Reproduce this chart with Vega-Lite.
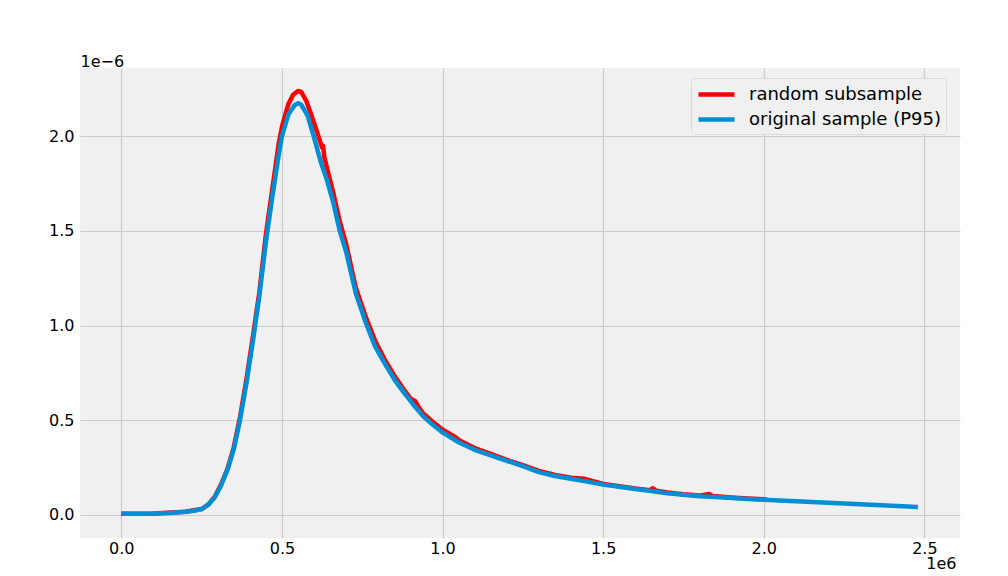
{
  "$schema": "https://vega.github.io/schema/vega-lite/v6.json",
  "width": 880,
  "height": 470,
  "autosize": {"type": "none"},
  "padding": {"left": 80, "top": 68, "right": 48, "bottom": 38},
  "background": "#ffffff",
  "config": {
    "view": {"stroke": null, "fill": "#f0f0f0"},
    "font": "DejaVu Sans",
    "axis": {"labelFont": "DejaVu Sans", "labelFontSize": 16, "labelColor": "#000000", "titleFont": "DejaVu Sans", "titleFontSize": 16, "titleFontWeight": "normal", "titleColor": "#000000", "domain": false, "ticks": false, "grid": true, "gridColor": "#cbcbcb", "gridWidth": 1.2},
    "legend": {"labelFont": "DejaVu Sans", "labelFontSize": 18, "labelColor": "#000000", "labelLimit": 400}
  },
  "datasets": {
    "curves": [
      {"x": 0, "y": 0.005e-6, "series": "random subsample"},
      {"x": 100000, "y": 0.006e-6, "series": "random subsample"},
      {"x": 200000, "y": 0.016e-6, "series": "random subsample"},
      {"x": 250000, "y": 0.03e-6, "series": "random subsample"},
      {"x": 270000, "y": 0.053e-6, "series": "random subsample"},
      {"x": 290000, "y": 0.092e-6, "series": "random subsample"},
      {"x": 310000, "y": 0.158e-6, "series": "random subsample"},
      {"x": 330000, "y": 0.24e-6, "series": "random subsample"},
      {"x": 350000, "y": 0.355e-6, "series": "random subsample"},
      {"x": 370000, "y": 0.52e-6, "series": "random subsample"},
      {"x": 390000, "y": 0.72e-6, "series": "random subsample"},
      {"x": 410000, "y": 0.945e-6, "series": "random subsample"},
      {"x": 430000, "y": 1.18e-6, "series": "random subsample"},
      {"x": 450000, "y": 1.48e-6, "series": "random subsample"},
      {"x": 470000, "y": 1.72e-6, "series": "random subsample"},
      {"x": 490000, "y": 1.96e-6, "series": "random subsample"},
      {"x": 500000, "y": 2.05e-6, "series": "random subsample"},
      {"x": 520000, "y": 2.17e-6, "series": "random subsample"},
      {"x": 535000, "y": 2.22e-6, "series": "random subsample"},
      {"x": 550000, "y": 2.24e-6, "series": "random subsample"},
      {"x": 560000, "y": 2.235e-6, "series": "random subsample"},
      {"x": 575000, "y": 2.19e-6, "series": "random subsample"},
      {"x": 590000, "y": 2.12e-6, "series": "random subsample"},
      {"x": 610000, "y": 2.02e-6, "series": "random subsample"},
      {"x": 625000, "y": 1.94e-6, "series": "random subsample"},
      {"x": 628000, "y": 1.95e-6, "series": "random subsample"},
      {"x": 632000, "y": 1.89e-6, "series": "random subsample"},
      {"x": 645000, "y": 1.8e-6, "series": "random subsample"},
      {"x": 660000, "y": 1.70e-6, "series": "random subsample"},
      {"x": 680000, "y": 1.55e-6, "series": "random subsample"},
      {"x": 700000, "y": 1.43e-6, "series": "random subsample"},
      {"x": 730000, "y": 1.20e-6, "series": "random subsample"},
      {"x": 760000, "y": 1.05e-6, "series": "random subsample"},
      {"x": 790000, "y": 0.92e-6, "series": "random subsample"},
      {"x": 820000, "y": 0.82e-6, "series": "random subsample"},
      {"x": 850000, "y": 0.735e-6, "series": "random subsample"},
      {"x": 880000, "y": 0.66e-6, "series": "random subsample"},
      {"x": 900000, "y": 0.615e-6, "series": "random subsample"},
      {"x": 915000, "y": 0.6e-6, "series": "random subsample"},
      {"x": 925000, "y": 0.57e-6, "series": "random subsample"},
      {"x": 940000, "y": 0.535e-6, "series": "random subsample"},
      {"x": 970000, "y": 0.49e-6, "series": "random subsample"},
      {"x": 1000000, "y": 0.45e-6, "series": "random subsample"},
      {"x": 1030000, "y": 0.42e-6, "series": "random subsample"},
      {"x": 1040000, "y": 0.41e-6, "series": "random subsample"},
      {"x": 1050000, "y": 0.395e-6, "series": "random subsample"},
      {"x": 1100000, "y": 0.352e-6, "series": "random subsample"},
      {"x": 1150000, "y": 0.322e-6, "series": "random subsample"},
      {"x": 1200000, "y": 0.29e-6, "series": "random subsample"},
      {"x": 1250000, "y": 0.262e-6, "series": "random subsample"},
      {"x": 1300000, "y": 0.232e-6, "series": "random subsample"},
      {"x": 1350000, "y": 0.21e-6, "series": "random subsample"},
      {"x": 1400000, "y": 0.195e-6, "series": "random subsample"},
      {"x": 1440000, "y": 0.19e-6, "series": "random subsample"},
      {"x": 1500000, "y": 0.163e-6, "series": "random subsample"},
      {"x": 1550000, "y": 0.151e-6, "series": "random subsample"},
      {"x": 1600000, "y": 0.139e-6, "series": "random subsample"},
      {"x": 1645000, "y": 0.13e-6, "series": "random subsample"},
      {"x": 1655000, "y": 0.14e-6, "series": "random subsample"},
      {"x": 1665000, "y": 0.127e-6, "series": "random subsample"},
      {"x": 1700000, "y": 0.117e-6, "series": "random subsample"},
      {"x": 1750000, "y": 0.108e-6, "series": "random subsample"},
      {"x": 1800000, "y": 0.101e-6, "series": "random subsample"},
      {"x": 1830000, "y": 0.11e-6, "series": "random subsample"},
      {"x": 1840000, "y": 0.099e-6, "series": "random subsample"},
      {"x": 1900000, "y": 0.091e-6, "series": "random subsample"},
      {"x": 1950000, "y": 0.086e-6, "series": "random subsample"},
      {"x": 2000000, "y": 0.082e-6, "series": "random subsample"},
      {"x": 2010000, "y": 0.078e-6, "series": "random subsample"},
      {"x": 0, "y": 0.005e-6, "series": "original sample (P95)"},
      {"x": 50000, "y": 0.005e-6, "series": "original sample (P95)"},
      {"x": 100000, "y": 0.006e-6, "series": "original sample (P95)"},
      {"x": 150000, "y": 0.009e-6, "series": "original sample (P95)"},
      {"x": 200000, "y": 0.016e-6, "series": "original sample (P95)"},
      {"x": 230000, "y": 0.022e-6, "series": "original sample (P95)"},
      {"x": 250000, "y": 0.03e-6, "series": "original sample (P95)"},
      {"x": 270000, "y": 0.052e-6, "series": "original sample (P95)"},
      {"x": 290000, "y": 0.09e-6, "series": "original sample (P95)"},
      {"x": 310000, "y": 0.152e-6, "series": "original sample (P95)"},
      {"x": 330000, "y": 0.235e-6, "series": "original sample (P95)"},
      {"x": 350000, "y": 0.345e-6, "series": "original sample (P95)"},
      {"x": 370000, "y": 0.505e-6, "series": "original sample (P95)"},
      {"x": 390000, "y": 0.70e-6, "series": "original sample (P95)"},
      {"x": 410000, "y": 0.92e-6, "series": "original sample (P95)"},
      {"x": 430000, "y": 1.16e-6, "series": "original sample (P95)"},
      {"x": 450000, "y": 1.44e-6, "series": "original sample (P95)"},
      {"x": 470000, "y": 1.68e-6, "series": "original sample (P95)"},
      {"x": 490000, "y": 1.90e-6, "series": "original sample (P95)"},
      {"x": 500000, "y": 2.0e-6, "series": "original sample (P95)"},
      {"x": 520000, "y": 2.115e-6, "series": "original sample (P95)"},
      {"x": 540000, "y": 2.165e-6, "series": "original sample (P95)"},
      {"x": 550000, "y": 2.175e-6, "series": "original sample (P95)"},
      {"x": 560000, "y": 2.168e-6, "series": "original sample (P95)"},
      {"x": 580000, "y": 2.11e-6, "series": "original sample (P95)"},
      {"x": 600000, "y": 1.995e-6, "series": "original sample (P95)"},
      {"x": 620000, "y": 1.87e-6, "series": "original sample (P95)"},
      {"x": 640000, "y": 1.77e-6, "series": "original sample (P95)"},
      {"x": 660000, "y": 1.65e-6, "series": "original sample (P95)"},
      {"x": 680000, "y": 1.50e-6, "series": "original sample (P95)"},
      {"x": 700000, "y": 1.39e-6, "series": "original sample (P95)"},
      {"x": 730000, "y": 1.17e-6, "series": "original sample (P95)"},
      {"x": 760000, "y": 1.02e-6, "series": "original sample (P95)"},
      {"x": 790000, "y": 0.89e-6, "series": "original sample (P95)"},
      {"x": 820000, "y": 0.80e-6, "series": "original sample (P95)"},
      {"x": 850000, "y": 0.715e-6, "series": "original sample (P95)"},
      {"x": 880000, "y": 0.645e-6, "series": "original sample (P95)"},
      {"x": 910000, "y": 0.58e-6, "series": "original sample (P95)"},
      {"x": 940000, "y": 0.52e-6, "series": "original sample (P95)"},
      {"x": 970000, "y": 0.475e-6, "series": "original sample (P95)"},
      {"x": 1000000, "y": 0.435e-6, "series": "original sample (P95)"},
      {"x": 1050000, "y": 0.383e-6, "series": "original sample (P95)"},
      {"x": 1100000, "y": 0.343e-6, "series": "original sample (P95)"},
      {"x": 1150000, "y": 0.314e-6, "series": "original sample (P95)"},
      {"x": 1200000, "y": 0.285e-6, "series": "original sample (P95)"},
      {"x": 1250000, "y": 0.257e-6, "series": "original sample (P95)"},
      {"x": 1300000, "y": 0.225e-6, "series": "original sample (P95)"},
      {"x": 1350000, "y": 0.205e-6, "series": "original sample (P95)"},
      {"x": 1400000, "y": 0.19e-6, "series": "original sample (P95)"},
      {"x": 1450000, "y": 0.175e-6, "series": "original sample (P95)"},
      {"x": 1500000, "y": 0.159e-6, "series": "original sample (P95)"},
      {"x": 1550000, "y": 0.148e-6, "series": "original sample (P95)"},
      {"x": 1600000, "y": 0.136e-6, "series": "original sample (P95)"},
      {"x": 1650000, "y": 0.125e-6, "series": "original sample (P95)"},
      {"x": 1700000, "y": 0.114e-6, "series": "original sample (P95)"},
      {"x": 1750000, "y": 0.105e-6, "series": "original sample (P95)"},
      {"x": 1800000, "y": 0.098e-6, "series": "original sample (P95)"},
      {"x": 1850000, "y": 0.094e-6, "series": "original sample (P95)"},
      {"x": 1900000, "y": 0.088e-6, "series": "original sample (P95)"},
      {"x": 1950000, "y": 0.083e-6, "series": "original sample (P95)"},
      {"x": 2000000, "y": 0.079e-6, "series": "original sample (P95)"},
      {"x": 2100000, "y": 0.071e-6, "series": "original sample (P95)"},
      {"x": 2200000, "y": 0.063e-6, "series": "original sample (P95)"},
      {"x": 2300000, "y": 0.055e-6, "series": "original sample (P95)"},
      {"x": 2400000, "y": 0.048e-6, "series": "original sample (P95)"},
      {"x": 2480000, "y": 0.041e-6, "series": "original sample (P95)"}
    ]
  },
  "data": {"name": "curves"},
  "encoding": {
    "x": {
      "field": "x", "type": "quantitative",
      "scale": {"domain": [-128600, 2611000], "nice": false, "zero": false},
      "axis": {"values": [0, 500000, 1000000, 1500000, 2000000, 2500000], "labelExpr": "format(datum.value/1e6, '.1f')", "labelPadding": 2, "title": "1e6", "titleAnchor": null, "titleAlign": "right", "titleBaseline": "alphabetic", "titleX": 876, "titleY": 30}
    },
    "y": {
      "field": "y", "type": "quantitative",
      "scale": {"domain": [-0.123e-6, 2.361e-6], "nice": false, "zero": false},
      "axis": {"values": [0, 0.5e-6, 1e-6, 1.5e-6, 2e-6], "labelExpr": "format(datum.value*1e6, '.1f')", "labelPadding": 6, "title": "1e\u22126", "titleAngle": 0, "titleAnchor": null, "titleAlign": "left", "titleBaseline": "alphabetic", "titleX": 0, "titleY": -2}
    },
    "color": {
      "field": "series", "type": "nominal",
      "scale": {"domain": ["random subsample", "original sample (P95)"], "range": ["#ff0000", "#008fd5"]},
      "legend": {
        "title": null, "orient": "none", "legendX": 611, "legendY": 10,
        "symbolType": "M-1,0H3", "symbolSize": 324, "symbolStrokeWidth": 4.5,
        "labelOffset": 30, "rowPadding": 4, "padding": 5,
        "fillColor": "#f0f0f0", "strokeColor": "#dadada", "cornerRadius": 3
      }
    }
  },
  "layer": [
    {"transform": [{"filter": "datum.series === 'random subsample'"}], "mark": {"type": "line", "strokeWidth": 4.5, "strokeJoin": "round"}},
    {"transform": [{"filter": "datum.series === 'original sample (P95)'"}], "mark": {"type": "line", "strokeWidth": 4.5, "strokeJoin": "round"}}
  ]
}
